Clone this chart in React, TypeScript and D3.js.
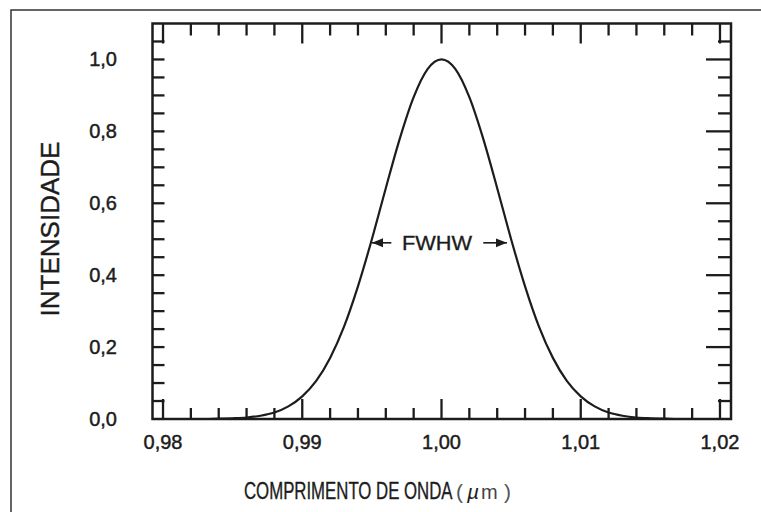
import React from "react";
import * as d3 from "d3";

// Data
const wavelengths = [
  0.980, 0.981, 0.982, 0.983, 0.984, 0.985, 0.986, 0.987, 0.988, 0.989,
  0.990, 0.991, 0.992, 0.993, 0.994, 0.995, 0.996, 0.997, 0.998, 0.999,
  1.000, 1.001, 1.002, 1.003, 1.004, 1.005, 1.006, 1.007, 1.008, 1.009,
  1.010, 1.011, 1.012, 1.013, 1.014, 1.015, 1.016, 1.017, 1.018, 1.019, 1.020,
];
const intensity = [
  0.000, 0.000, 0.000, 0.000, 0.001, 0.002, 0.004, 0.009, 0.018, 0.035,
  0.063, 0.106, 0.170, 0.257, 0.369, 0.500, 0.642, 0.779, 0.895, 0.973,
  1.000, 0.973, 0.895, 0.779, 0.642, 0.500, 0.369, 0.257, 0.170, 0.106,
  0.063, 0.035, 0.018, 0.009, 0.004, 0.002, 0.001, 0.000, 0.000, 0.000, 0.000,
];
const xMajorTicks = [0.98, 0.99, 1.0, 1.01, 1.02];
const xTickLabels = ["0,98", "0,99", "1,00", "1,01", "1,02"];
const yMajorTicks = [0, 0.2, 0.4, 0.6, 0.8, 1.0];
const yTickLabels = ["0,0", "0,2", "0,4", "0,6", "0,8", "1,0"];
const xTitle = "COMPRIMENTO DE ONDA";
const xUnit = ["(", "µ", "m", ")"];
const yTitle = "INTENSIDADE";
const annotation = "FWHW";
const annotationY = 0.49;
const annotationLeft = [0.995, 0.9964];
const annotationRight = [1.0030, 1.0047];

const W = 761;
const H = 512;
const plot = { left: 152.5, right: 731, top: 23.5, bottom: 419 };
const ink = "#1c1c1c";
const font = "'Liberation Sans', Arial, Helvetica, sans-serif";

export default function App() {
  const x = d3
    .scaleLinear()
    .domain([0.98 - 10.5 / 13900, 1.02 + 11 / 13900])
    .range([plot.left, plot.right]);
  const y = d3.scaleLinear().domain([0, 1.1]).range([plot.bottom, plot.top]);

  const minorX = d3.range(0, 21).map((i) => 0.98 + i * 0.002);
  const minorY = d3.range(1, 22).map((i) => i * 0.05);

  const line = d3
    .line<number>()
    .x((_, i) => x(wavelengths[i]))
    .y((d) => y(d))
    .curve(d3.curveMonotoneX);

  const isMajorX = (v: number) => xMajorTicks.some((m) => Math.abs(m - v) < 1e-6);
  const isMajorY = (v: number) => yMajorTicks.some((m) => m > 0 && Math.abs(m - v) < 1e-6);

  const ay = y(annotationY);

  return (
    <div style={{ position: "absolute", left: 0, top: 0 }}>
      <svg width={W} height={H} style={{ display: "block", background: "#fff" }}>
        {/* outer frame */}
        <path d={`M11,${H} V10 H${W}`} fill="none" stroke="#333" strokeWidth={1.5} />

        {/* ticks */}
        <g stroke={ink} strokeWidth={2.3}>
          {minorX.map((v, i) => {
            const len = isMajorX(v) ? 20 : 11;
            const len2 = isMajorX(v) ? 20 : 12;
            return (
              <g key={"xt" + i}>
                <line x1={x(v)} x2={x(v)} y1={plot.bottom} y2={plot.bottom - len} />
                <line x1={x(v)} x2={x(v)} y1={plot.top} y2={plot.top + len2} />
              </g>
            );
          })}
          {minorY.map((v, i) => {
            const lenR = isMajorY(v) ? 25 : 13;
            return (
              <g key={"yt" + i}>
                <line x1={plot.left} x2={plot.left + 12} y1={y(v)} y2={y(v)} />
                <line x1={plot.right} x2={plot.right - lenR} y1={y(v)} y2={y(v)} />
              </g>
            );
          })}
        </g>

        {/* plot frame */}
        <rect
          x={plot.left}
          y={plot.top}
          width={plot.right - plot.left}
          height={plot.bottom - plot.top}
          fill="none"
          stroke={ink}
          strokeWidth={2.5}
        />

        {/* curve */}
        <path d={line(intensity) || ""} fill="none" stroke={ink} strokeWidth={2.2} />

        {/* tick labels */}
        <g fill={ink} stroke={ink} strokeWidth={0.45} fontFamily={font} fontSize={20}>
          {xMajorTicks.map((v, i) => (
            <text key={"xl" + i} x={x(v)} y={449} textAnchor="middle">
              {xTickLabels[i]}
            </text>
          ))}
          {yMajorTicks.map((v, i) => (
            <text key={"yl" + i} x={117} y={y(v) + 7} textAnchor="end">
              {yTickLabels[i]}
            </text>
          ))}
        </g>

        {/* axis titles */}
        <text
          transform={`translate(59,229) rotate(-90)`}
          textAnchor="middle"
          fontFamily={font}
          fontSize={26}
          fill={ink}
          stroke={ink}
          strokeWidth={0.4}
        >
          {yTitle}
        </text>
        <g fontFamily={font} fill={ink}>
          <text
            transform="translate(244,499) scale(0.73,1)"
            fontSize={23}
            stroke={ink}
            strokeWidth={0.35}
          >
            {xTitle}
          </text>
          <text x={456} y={499} fill="#555" fontSize={21}>{xUnit[0]}</text>
          <text x={467} y={499} fontStyle="italic" fontSize={21}>{xUnit[1]}</text>
          <text x={481} y={499} fill="#444" fontSize={20}>{xUnit[2]}</text>
          <text x={504} y={499} fill="#555" fontSize={21}>{xUnit[3]}</text>
        </g>

        {/* FWHW annotation */}
        <defs>
          <marker id="arr" viewBox="0 0 10 10" refX={10} refY={5} markerWidth={7} markerHeight={7} orient="auto">
            <path d="M0,1 L10,5 L0,9 Z" fill={ink} />
          </marker>
        </defs>
        <line
          x1={x(annotationLeft[1])}
          x2={x(annotationLeft[0])}
          y1={ay}
          y2={ay}
          stroke={ink}
          strokeWidth={1.6}
          markerEnd="url(#arr)"
        />
        <line
          x1={x(annotationRight[0])}
          x2={x(annotationRight[1])}
          y1={ay}
          y2={ay}
          stroke={ink}
          strokeWidth={1.6}
          markerEnd="url(#arr)"
        />
        <text
          x={402}
          y={ay + 7.5}
          fontFamily={font}
          fontSize={21}
          textLength={70}
          lengthAdjust="spacingAndGlyphs"
          fill={ink}
          stroke={ink}
          strokeWidth={0.35}
        >
          {annotation}
        </text>
      </svg>
    </div>
  );
}
